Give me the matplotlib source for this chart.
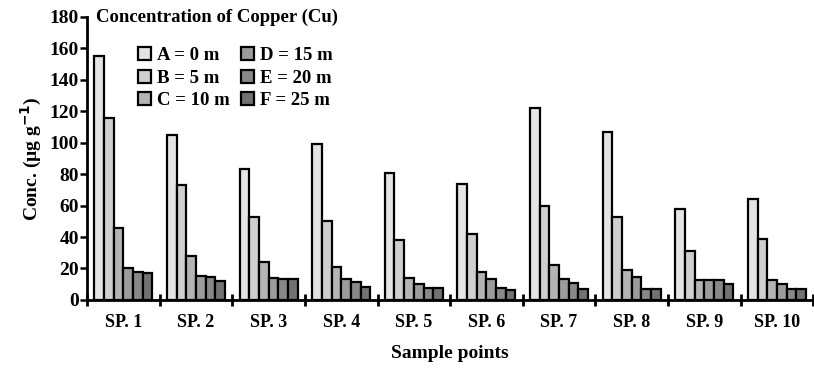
import numpy as np
import matplotlib.pyplot as plt

plt.rcParams['font.family'] = ['Liberation Serif', 'DejaVu Serif']
plt.rcParams['font.weight'] = 'bold'
plt.rcParams['axes.labelweight'] = 'bold'
plt.rcParams['mathtext.default'] = 'bf'

# data
samples = ['SP. 1', 'SP. 2', 'SP. 3', 'SP. 4', 'SP. 5',
           'SP. 6', 'SP. 7', 'SP. 8', 'SP. 9', 'SP. 10']
depths = ['A = 0 m', 'B = 5 m', 'C = 10 m', 'D = 15 m', 'E = 20 m', 'F = 25 m']
A = [155, 105, 83, 99, 81, 74, 122, 107, 58, 64]
B = [116, 73, 53, 50, 38, 42, 60, 53, 31, 39]
C = [46, 28, 24, 21, 14, 17.5, 22.5, 19, 12.7, 12.7]
D = [20, 15, 14, 13.5, 10, 13, 13.5, 14.5, 12.7, 10.2]
E = [18, 14.5, 13.5, 11.7, 7.4, 7.4, 11, 6.8, 12.7, 6.8]
F = [17, 12, 13, 8, 7.4, 6, 7, 6.8, 10.2, 6.8]
series = [A, B, C, D, E, F]
colors = ['#e4e4e4', '#cfcfcf', '#b4b4b4', '#9c9c9c', '#888888', '#727272']

fig = plt.figure(figsize=(8.14, 3.68), dpi=100)
ax = fig.add_axes([0.107, 0.185, 0.892, 0.769])

x = np.arange(len(samples))
w = 0.8 / 6
for i, (vals, c) in enumerate(zip(series, colors)):
    ax.bar(x - 0.4 + w * (i + 0.5), vals, width=w, color=c,
           edgecolor='black', linewidth=1.6, label=depths[i])

ax.set_xlim(-0.5, len(samples) - 0.5)
ax.set_ylim(0, 180)
ax.set_yticks(range(0, 181, 20))
ax.tick_params(axis='y', labelsize=14, width=1.8, length=5, pad=1)

# ticks at group boundaries, labels in the middle
ax.set_xticks(np.arange(-0.5, len(samples), 1.0))
ax.set_xticklabels([])
ax.set_xticks(x, minor=True)
ax.set_xticklabels(samples, minor=True, fontsize=13)
ax.tick_params(axis='x', which='major', width=2, length=8, direction='inout')
ax.tick_params(axis='x', which='minor', length=0, pad=10)

for s in ['top', 'right']:
    ax.spines[s].set_visible(False)
for s in ['left', 'bottom']:
    ax.spines[s].set_linewidth(2)

ax.set_ylabel('Conc. (µg g$^{-1}$)', fontsize=14, labelpad=4)
ax.set_xlabel('Sample points', fontsize=14, labelpad=10)

ax.text(0.012, 1.0, 'Concentration of Copper (Cu)', transform=ax.transAxes,
        fontsize=13.5, va='center', ha='left')

ax.legend(ncol=2, loc='upper left', bbox_to_anchor=(0.06, 0.921), frameon=False,
          fontsize=13.5, handlelength=0.7, handleheight=0.7, handletextpad=0.3,
          columnspacing=0.6, labelspacing=0.3, borderaxespad=0)

fig.savefig('out.png', dpi=100)
